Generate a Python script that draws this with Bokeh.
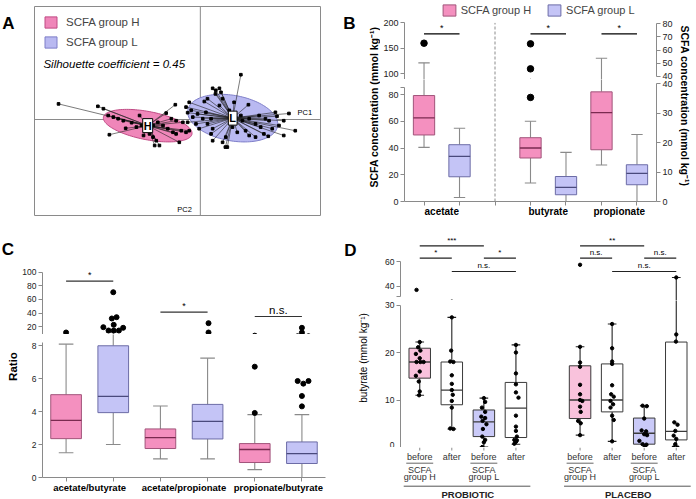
import numpy as np
from bokeh.plotting import figure
from bokeh.models import (Range1d, FactorRange, LinearAxis, CategoricalAxis, FixedTicker, Legend,
                          LegendItem, Label, Span, ColumnDataSource)
from bokeh.transform import dodge
from bokeh.layouts import row, column
from bokeh.embed import file_html
from bokeh.resources import INLINE
from bokeh.core.properties import value

# ------------------------------------------------------------------ data
# Panel A: PCA scores (PC1, PC2) of the samples of the two SCFA groups
a_H_pc1 = [-3.57, -2.58, -2.44, -2.29, -0.63, -0.86, -1.53, -2.32, -2.19, -2.07,
           -1.94, -1.73, -1.61, -1.48, -1.32, -1.28, -1.19, -1.15, -1.03, -1.11,
           -0.94, -0.82, -0.69, -0.61, -0.53, -0.48, -0.36, -0.28, -0.73, -0.61,
           -0.44, -1.19, -1.07, -1.43, -1.88]
a_H_pc2 = [0.39, 0.33, 0.27, -0.38, 0.37, 0.16, 0.10, 0.10, 0.06, 0.02,
           -0.03, -0.08, -0.19, -0.15, -0.28, -0.36, -0.44, -0.65, -0.65, -0.53,
           -0.15, -0.23, -0.32, -0.36, -0.57, -0.28, -0.32, -0.28, 0.02, -0.03,
           -0.07, -0.15, -0.07, -0.40, -0.22]
a_L_pc1 = [1.02, 0.31, 0.39, 0.48, 0.52, 0.38, 0.18, 0.10, -0.28, -0.36,
           -0.23, -0.07, -0.19, 0.06, 0.27, -0.32, -0.11, 0.18, -0.03, 0.31,
           0.27, 0.64, 0.56, 0.68, 0.63, 0.31, 0.93, 1.23, 1.39, 1.60,
           1.81, 1.98, 2.10, 2.39, 1.89, 1.93, 1.64, 1.48, 1.73, 1.23,
           1.06, 1.02, 1.39, 1.52, 0.85, 1.21, 0.81, 1.14, 0.48, 0.14,
           0.56, 1.71, -0.32, 0.73, 2.10, 2.23]
a_L_pc2 = [1.12, 0.78, 0.73, 0.78, 0.68, 0.64, 0.52, 0.45, 0.43, 0.31,
           0.23, 0.14, 0.06, 0.02, 0.02, -0.07, -0.11, -0.11, -0.23, -0.23,
           -0.36, -0.44, -0.57, -0.69, -0.69, -0.53, -0.32, -0.40, -0.44, -0.36,
           -0.23, -0.15, -0.40, -0.28, 0.18, 0.08, 0.02, 0.10, -0.03, 0.02,
           -0.03, 0.10, -0.11, -0.19, 0.43, 0.37, -0.19, -0.28, 0.35, 0.18,
           0.52, -0.42, 0.17, 0.23, -0.03, 0.15]
a_silhouette = 0.45

# Panel B: SCFA concentration (mmol/kg), box statistics
b_acids = ["acetate", "butyrate", "propionate"]
b_axis = ["left", "right", "right"]
b_H_lo = [40.5, 6.3, 12.4]
b_H_q1 = [49.8, 14.8, 17.6]
b_H_med = [62.6, 18.2, 30.2]
b_H_q3 = [79.3, 21.7, 37.3]
b_H_hi = [121.1, 27.3, 53.9]
b_L_lo = [3.0, 0.0, 0.0]
b_L_q1 = [18.5, 2.3, 5.7]
b_L_med = [33.8, 4.8, 9.6]
b_L_q3 = [42.5, 8.5, 12.5]
b_L_hi = [54.8, 16.7, 22.8]
b_out_acid = ["acetate", "butyrate", "butyrate", "butyrate"]
b_out_group = ["H", "H", "H", "H"]
b_out_val = [159.9, 64.8, 45.8, 35.4]
b_sig_text = ["*", "*", "*"]
b_sig_y = [178.5, 72.4, 72.4]

# Panel C: ratios
c_ratios = ["acetate/butyrate", "acetate/propionate", "propionate/butyrate"]
c_H_lo = [1.50, 1.13, 0.48]
c_H_q1 = [2.36, 1.76, 0.91]
c_H_med = [3.47, 2.42, 1.70]
c_H_q3 = [5.03, 2.95, 2.06]
c_H_hi = [8.10, 4.34, 3.82]
c_L_lo = [2.00, 1.13, 0.00]
c_L_q1 = [3.94, 2.34, 0.85]
c_L_med = [4.93, 3.41, 1.45]
c_L_q3 = [8.00, 4.44, 2.16]
c_L_hi = [11.4, 7.25, 3.82]
c_out_ratio = (["acetate/butyrate"] * 10 + ["acetate/propionate"] * 2 + ["propionate/butyrate"] * 9)
c_out_group = (["H"] + ["L"] * 9 + ["L"] * 2 + ["H"] * 2 + ["L"] * 7)
c_out_val = [11.4, 70.6, 33.9, 32.0, 22.7, 19.2, 18.3, 14.3, 14.3, 14.3,
             25.1, 11.4, 6.73, 3.92, 18.3, 11.4, 5.86, 5.70, 5.86, 4.95, 4.32]
c_out_dx = [0.0, 0.0, 0.07, -0.03, 0.01, -0.21, 0.21, -0.10, 0.01, 0.12,
            0.02, 0.02, 0.0, 0.0, 0.0, 0.0, -0.09, 0.03, 0.14, 0.0, 0.0]
c_sig_text = ["*", "*", "n.s."]
c_sig_y = [86.8, 41.2, 34.9]

# Panel D: butyrate (mmol/kg) before / after the intervention
d_trials = ["PROBIOTIC", "PLACEBO"]
d_cells = [("SCFA group H", "before"), ("SCFA group H", "after"),
           ("SCFA group L", "before"), ("SCFA group L", "after")]
d_lo = [11.0, 3.9, 0.1, 0.7, 2.6, 1.3, 0.0, 0.0]
d_q1 = [14.6, 9.0, 2.3, 2.1, 6.1, 7.5, 0.7, 1.6]
d_med = [18.0, 12.1, 5.4, 8.3, 10.0, 10.0, 3.0, 3.4]
d_q3 = [20.9, 18.0, 7.9, 13.7, 17.2, 17.6, 6.2, 22.2]
d_hi = [22.2, 27.4, 10.4, 21.6, 21.2, 26.0, 8.8, 47.1]
d_points = [
    [37.0, 22.2, 21.1, 20.4, 19.7, 18.8, 18.0, 18.0, 18.0, 16.0, 15.1, 13.9, 11.8, 11.0],
    [27.4, 20.4, 18.1, 18.0, 15.2, 13.4, 12.1, 11.1, 9.8, 8.4, 4.0, 3.9],
    [10.4, 9.6, 8.4, 7.5, 6.5, 6.2, 5.6, 4.9, 3.9, 2.3, 1.6, 1.1, 0.1],
    [21.6, 20.0, 15.6, 13.3, 11.6, 10.5, 6.7, 4.4, 3.5, 2.3, 1.6, 1.5, 1.2, 0.8],
    [57.4, 21.2, 17.9, 17.0, 13.2, 11.2, 10.0, 9.8, 8.6, 7.5, 5.6, 5.1, 2.6],
    [26.0, 20.9, 18.1, 17.6, 13.1, 11.2, 10.7, 9.8, 9.1, 8.4, 6.7, 5.8, 1.3],
    [8.8, 8.7, 6.1, 3.6, 3.4, 2.8, 2.6, 1.4, 0.7, 0.6, 0.1],
    [47.1, 23.8, 22.3, 5.3, 4.8, 3.5, 2.5, 1.8, 0.7, 0.0, 0.0],
]
d_points_dx = [
    [-0.10, 0.0, -0.05, 0.02, -0.12, 0.0, -0.10, 0.02, 0.12, 0.0, -0.12, -0.03, 0.0, -0.02],
    [0.0, -0.02, -0.05, 0.05, 0.0, 0.0, 0.0, 0.03, 0.0, 0.0, -0.05, 0.05],
    [0.0, 0.04, -0.06, 0.04, -0.08, 0.04, -0.04, 0.08, -0.03, -0.05, 0.04, 0.0, -0.05],
    [0.0, 0.0, 0.0, 0.0, 0.0, 0.08, 0.0, 0.0, 0.0, 0.03, -0.05, 0.03, 0.0, -0.05],
    [0.0, 0.0, 0.0, 0.0, 0.0, 0.0, 0.0, 0.07, 0.0, 0.02, -0.06, 0.02, 0.0],
    [0.0, 0.0, 0.0, 0.0, 0.0, -0.03, 0.05, -0.05, 0.03, -0.05, 0.0, 0.05, 0.0],
    [-0.05, 0.08, 0.0, -0.08, 0.06, 0.0, 0.09, -0.15, -0.05, 0.07, 0.02],
    [0.0, 0.0, -0.01, -0.06, 0.04, -0.03, -0.08, 0.0, -0.03, -0.08, 0.04],
]
d_sig_trial = ["PROBIOTIC"] * 4 + ["PLACEBO"] * 4
d_sig_from = [0, 0, 2, 1, 0, 0, 2, 1]
d_sig_to = [2, 1, 3, 3, 2, 1, 3, 3]
d_sig_y = [72.8, 62.8, 62.8, 52.0, 72.8, 62.8, 62.8, 52.0]
d_sig_text = ["***", "*", "*", "n.s.", "**", "n.s.", "n.s.", "n.s."]

# ------------------------------------------------------------------ style
SX = 0.994
SY = 1.0
FONT = "Liberation Sans"
GRAY = "#8a8a8a"
PINK, PINK_LINE, PINK_MED = "#f490bf", "#a1547a", "#7a2a50"
LAV, LAV_LINE, LAV_MED = "#c4c4f6", "#6c6ca6", "#4a4a7c"
PINK_D, LAV_D = "#f9c2dc", "#cacaf8"
ELL_H, ELL_H_LINE = "#ef86b9", "#c04a84"
ELL_L, ELL_L_LINE = "#b9b9f1", "#7e7ec8"


def pw(v):
    return int(round(v * SX))


def ph(v):
    return int(round(v * SY))


def fs(v):
    return f"{v * SY:.1f}px"


def fig(w, h, bl=0, br=0, bt=0, bb=0, x_range=None, y_range=None):
    p = figure(width=pw(w), height=ph(h),
               x_range=x_range if x_range is not None else Range1d(0, 1),
               y_range=y_range if y_range is not None else Range1d(0, 1),
               output_backend="svg", toolbar_location=None,
               x_axis_location=None, y_axis_location=None,
               min_border_left=pw(bl), min_border_right=pw(br),
               min_border_top=ph(bt), min_border_bottom=ph(bb))
    p.title = None
    p.grid.visible = False
    p.outline_line_color = None
    p.background_fill_color = "white"
    p.border_fill_color = "white"
    return p


def side(w, h, X0, Y0):
    """A blank strip whose data coordinates are reference pixels (x right, -y down)."""
    return fig(w, h, x_range=Range1d(X0, X0 + w), y_range=Range1d(-(Y0 + h), -Y0))


def stext(p, X, Y, text, size, style="normal", angle=0.0, color="black"):
    p.text(x=[X], y=[-Y], text=[text], angle=angle, text_font=value(FONT),
           text_font_size=value(fs(size)), text_font_style=style, text_color=color,
           text_align="center", text_baseline="middle")


def put(p, fl, fb, X, Y, text, size, style="normal", angle=0.0, align="center",
        baseline="middle", color="black"):
    p.add_layout(Label(x=(X - fl) * SX, y=(fb - Y) * SY, x_units="screen", y_units="screen",
                       text=text, text_font=FONT, text_font_size=fs(size),
                       text_font_style=style, text_color=color, angle=angle,
                       text_align=align, text_baseline=baseline))


def axis_style(ax, size):
    ax.axis_line_color = GRAY
    ax.major_tick_line_color = GRAY
    ax.minor_tick_line_color = None
    ax.major_tick_out = 4
    ax.major_tick_in = 0
    ax.major_label_standoff = 2
    ax.major_label_text_font = FONT
    ax.major_label_text_font_size = fs(size)
    ax.major_label_text_color = "#222222"
    return ax


def cat_axis(p, size):
    ax = axis_style(CategoricalAxis(), 1)
    ax.major_label_text_alpha = 0
    ax.major_label_text_font_size = "1px"
    ax.major_label_standoff = 0
    ax.group_text_font = FONT
    ax.group_text_font_size = fs(size)
    ax.group_text_font_style = "bold"
    ax.group_text_color = "black"
    ax.separator_line_color = None
    p.add_layout(ax, "below")


def draw_box(p, factors, lo, q1, med, q3, hi, fill, line, medc, wcol, bw, cw, yname="default"):
    data = dict(x=factors, lo=lo, q1=q1, med=med, q3=q3, hi=hi)
    if isinstance(fill, list):
        data["fill"] = fill
        fill = "fill"
    src = ColumnDataSource(data)
    kw = dict(source=src, y_range_name=yname)
    p.segment(x0="x", y0="q3", x1="x", y1="hi", line_color=wcol, line_width=1.1, **kw)
    p.segment(x0="x", y0="lo", x1="x", y1="q1", line_color=wcol, line_width=1.1, **kw)
    for k in ("hi", "lo"):
        p.segment(x0=dodge("x", -cw / 2, range=p.x_range), y0=k,
                  x1=dodge("x", cw / 2, range=p.x_range), y1=k,
                  line_color=wcol, line_width=1.1, **kw)
    r = p.vbar(x="x", top="q3", bottom="q1", width=bw, fill_color=fill,
               line_color=line, line_width=1, **kw)
    p.segment(x0=dodge("x", -bw / 2, range=p.x_range), y0="med",
              x1=dodge("x", bw / 2, range=p.x_range), y1="med",
              line_color=medc, line_width=1.3, **kw)
    return r


def make_legend(items, loc, spacing, gh=14):
    return Legend(items=items, location=loc, orientation="horizontal", padding=0, margin=0,
                  spacing=pw(spacing), glyph_width=pw(16), glyph_height=ph(gh),
                  label_height=ph(gh), label_standoff=pw(4), label_text_font=FONT,
                  label_text_font_size=fs(11), background_fill_alpha=0, border_line_alpha=0)


# ------------------------------------------------------------------ panel A
def ellipse(xs, ys, k=1.5, n=120):
    xs = np.asarray(xs)
    ys = np.asarray(ys)
    cx, cy = xs.mean(), ys.mean()
    vals, vecs = np.linalg.eigh(np.cov(xs, ys, bias=True))
    t = np.linspace(0, 2 * np.pi, n)
    pts = vecs @ (k * np.sqrt(vals)[:, None] * np.vstack([np.cos(t), np.sin(t)]))
    return cx + pts[0], cy + pts[1], cx, cy


pAl = side(33, 232, 0, 0)
stext(pAl, 8, 19, "A", 17, "bold")

pA = fig(307, 232, 1, 18, 6, 17, Range1d(-4.175, 3.025), Range1d(-2.4, 2.825))
pA.outline_line_color = GRAY
pA.add_layout(Span(location=0, dimension="height", line_color=GRAY, line_width=1, level="underlay"))
pA.add_layout(Span(location=0, dimension="width", line_color=GRAY, line_width=1, level="underlay"))
legA = []
for name, xs, ys, fc, lc in (("H", a_H_pc1, a_H_pc2, ELL_H, ELL_H_LINE),
                             ("L", a_L_pc1, a_L_pc2, ELL_L, ELL_L_LINE)):
    ex, ey, cx, cy = ellipse(xs, ys)
    r = pA.patch(ex, ey, fill_color=fc, line_color=lc, line_width=1)
    pA.segment(x0=[cx] * len(xs), y0=[cy] * len(ys), x1=xs, y1=ys, line_color="#222222", line_width=0.6)
    pA.scatter(xs, ys, marker="square", size=2.6, color="black")
    pA.text(x=[cx], y=[cy], text=[name], text_font=value(FONT), text_font_size=value(fs(11)),
            text_font_style="bold", text_align="center", text_baseline="middle",
            background_fill_color="white", border_line_color="black", padding=1)
    legA.append(LegendItem(label=f"SCFA group {name}", renderers=[r]))
pA.add_layout(Legend(items=legA, location="top_left", orientation="vertical", margin=ph(9), padding=0,
                     spacing=ph(6), glyph_width=pw(15), glyph_height=ph(14), label_height=ph(14),
                     label_standoff=pw(8), label_text_font=FONT, label_text_font_size=fs(11.5),
                     background_fill_alpha=0, border_line_alpha=0))
put(pA, 34, 215, 43, 63.5, f"Silhouette coefficient = {a_silhouette}", 11.5, "italic", align="left")
put(pA, 34, 215, 306, 111.5, "PC1", 7.5)
put(pA, 34, 215, 185, 208.5, "PC2", 7.5)

# ------------------------------------------------------------------ panel B
b_factors = []
for acid in b_acids:
    b_factors += [(acid, "H"), (acid, "L")]
    if acid == "acetate":
        b_factors.append((" ", " "))      # empty slot that separates the left- and right-axis acids
xB = FactorRange(factors=b_factors, factor_padding=0, group_padding=0,
                 range_padding=0.05, range_padding_units="absolute")
pBt = fig(300, 79, 19, 22, 0, 0, xB, Range1d(88.14, 244.3))
pBt.extra_y_ranges = {"r": Range1d(37.72, 97.7)}
pBb = fig(300, 153, 19, 22, 0, 31.3, xB, Range1d(0, 91.3))
pBb.extra_y_ranges = {"r": Range1d(0, 41.5)}

pBt.add_layout(axis_style(LinearAxis(ticker=FixedTicker(ticks=[100, 150, 200]), bounds=(88, 200)), 9), "left")
pBt.add_layout(axis_style(LinearAxis(y_range_name="r", ticker=FixedTicker(ticks=[40, 50, 60, 70, 80]),
                                     bounds=(40, 80)), 9), "right")
pBb.add_layout(axis_style(LinearAxis(ticker=FixedTicker(ticks=[0, 20, 40, 60, 80, 85]), bounds=(0, 85),
                                     major_label_overrides={85: ""}), 9), "left")
pBb.add_layout(axis_style(LinearAxis(y_range_name="r", ticker=FixedTicker(ticks=[0, 10, 20, 30, 40]),
                                     bounds=(0, 40)), 9), "right")
cat_axis(pBb, 10)

legB = {}
for p, top in ((pBt, 200), (pBb, 91.3)):
    p.segment(x0=[(" ", " ")], y0=[p.y_range.start], x1=[(" ", " ")], y1=[top],
              line_color=GRAY, line_dash="3 2", line_width=1)
    for g, stats, fc, lc, mc in (("H", (b_H_lo, b_H_q1, b_H_med, b_H_q3, b_H_hi), PINK, PINK_LINE, PINK_MED),
                                 ("L", (b_L_lo, b_L_q1, b_L_med, b_L_q3, b_L_hi), LAV, LAV_LINE, LAV_MED)):
        for side_, yname in (("left", "default"), ("right", "r")):
            idx = [i for i, a in enumerate(b_axis) if a == side_]
            r = draw_box(p, [(b_acids[i], g) for i in idx], *[[s[i] for i in idx] for s in stats],
                         fc, lc, mc, GRAY, 0.6, 0.32, yname)
            if side_ == "left" and p is pBt:
                legB[g] = r
    for side_, yname in (("left", "default"), ("right", "r")):
        ox = [(a, g) for a, g in zip(b_out_acid, b_out_group) if b_axis[b_acids.index(a)] == side_]
        oy = [v for a, v in zip(b_out_acid, b_out_val) if b_axis[b_acids.index(a)] == side_]
        p.scatter(x=ox, y=oy, size=6.5, color="black", y_range_name=yname)
        idx = [i for i, a in enumerate(b_axis) if a == side_]
        p.segment(x0=[(b_acids[i], "H") for i in idx], y0=[b_sig_y[i] for i in idx],
                  x1=[(b_acids[i], "L") for i in idx], y1=[b_sig_y[i] for i in idx],
                  line_color="black", line_width=1.2, y_range_name=yname)
        p.text(x=[(b_acids[i], "H", 0.5) for i in idx], y=[b_sig_y[i] for i in idx],
               text=[b_sig_text[i] for i in idx], text_font=value(FONT), text_font_size=value(fs(9)),
               text_align="center", text_baseline="bottom", y_offset=-1, y_range_name=yname)
pBt.add_layout(make_legend([LegendItem(label="SCFA group H", renderers=[legB["H"]]),
                            LegendItem(label="SCFA group L", renderers=[legB["L"]])],
                           ((438 - 401) * SX, (79 - 17) * SY), 15))

pBl = side(42, 232, 340, 0)
stext(pBl, 351, 19, "B", 17, "bold")
stext(pBl, 375.5, 110, "SCFA concentration  (mmol kg\u207b\u00b9)", 10.5, "bold", angle=np.pi / 2)
pBr = side(18, 232, 682, 0)
stext(pBr, 688, 112, "SCFA concentration  (mmol kg\u207b\u00b9)", 10.5, "bold", angle=-np.pi / 2)

# ------------------------------------------------------------------ panel C
c_factors = [(r_, g) for r_ in c_ratios for g in ("H", "L")]
xC = FactorRange(factors=c_factors, factor_padding=0, group_padding=0, range_padding=0)
pCt = fig(326, 102, 22, 18, 36, 0, xC, Range1d(8.44, 105.5))
pCb = fig(326, 165, 22, 18, 0, 21.7, xC, Range1d(0, 8.685))
pCt.add_layout(axis_style(LinearAxis(ticker=FixedTicker(ticks=[20, 40, 60, 80, 100]), bounds=(8, 100)), 8.5), "left")
pCb.add_layout(axis_style(LinearAxis(ticker=FixedTicker(ticks=[0, 2, 4, 6, 8]), bounds=(0, 8.2)), 8.5), "left")
cat_axis(pCb, 9.5)
legC = {}
for p in (pCt, pCb):
    for g, stats, fc, lc, mc in (("H", (c_H_lo, c_H_q1, c_H_med, c_H_q3, c_H_hi), PINK, PINK_LINE, PINK_MED),
                                 ("L", (c_L_lo, c_L_q1, c_L_med, c_L_q3, c_L_hi), LAV, LAV_LINE, LAV_MED)):
        r = draw_box(p, [(r_, g) for r_ in c_ratios], *stats, fc, lc, mc, GRAY, 0.65, 0.31)
        if p is pCt:
            legC[g] = r
    p.scatter(x=[(r_, g, dx) for r_, g, dx in zip(c_out_ratio, c_out_group, c_out_dx)], y=c_out_val,
              size=5, color="black")
    p.segment(x0=[(r_, "H") for r_ in c_ratios], y0=c_sig_y, x1=[(r_, "L") for r_ in c_ratios], y1=c_sig_y,
              line_color="#333333", line_width=1.2)
    p.text(x=[(r_, "H", 0.5) for r_ in c_ratios], y=c_sig_y, text=c_sig_text, text_font=value(FONT),
           text_font_size=[fs(9) if t == "*" else fs(11.5) for t in c_sig_text],
           text_align="center", text_baseline="bottom", y_offset=-1)
pCt.add_layout(make_legend([LegendItem(label="SCFA group H", renderers=[legC["H"]]),
                            LegendItem(label="SCFA group L", renderers=[legC["L"]])],
                           ((77 - 41) * SX, (334 - 264) * SY), 18, gh=16))
pCl = side(19, 267, 0, 232)
stext(pCl, 7.5, 249, "C", 17, "bold")
stext(pCl, 12, 366, "Ratio", 11.5, "bold", angle=np.pi / 2)

# ------------------------------------------------------------------ panel D
d_factors = [(t, g, s) for t in d_trials for (g, s) in d_cells]
xD = FactorRange(factors=d_factors, factor_padding=0, subgroup_padding=0, group_padding=1,
                 range_padding=0.1, range_padding_units="absolute")
pDt = fig(320, 68, 21.7, 1, 2, 0, xD, Range1d(28.37, 82.03))
pDb = fig(320, 147, 21.7, 1, 0, 0, xD, Range1d(0, 30.95))
pDa = fig(320, 52, 21.7, 1, 0, 0, xD, Range1d(0, 1))
pDt.add_layout(axis_style(LinearAxis(ticker=FixedTicker(ticks=[32, 40, 60]), bounds=(32, 60),
                                     major_label_overrides={32: ""}), 8.5), "left")
pDb.add_layout(axis_style(LinearAxis(ticker=FixedTicker(ticks=[0, 10, 20, 30]), bounds=(0, 30)), 8.5), "left")
pDb.add_layout(Span(location=0, dimension="width", line_color=GRAY, line_width=1))

d_fill = [(PINK_D if g.endswith("H") else LAV_D) if s == "before" else "white" for (t, g, s) in d_factors]
pt_x, pt_y = [], []
for f, vals, dxs in zip(d_factors, d_points, d_points_dx):
    for v, dx in zip(vals, dxs):
        pt_x.append((*f, dx))
        pt_y.append(v)
for p in (pDt, pDb):
    draw_box(p, d_factors, d_lo, d_q1, d_med, d_q3, d_hi, d_fill, "#3a3a3a", "#3a3a3a", "#222222", 0.67, 0.27)
    p.scatter(x=pt_x, y=pt_y, size=3.4, color="black")
sx0 = [(t, *d_cells[i]) for t, i in zip(d_sig_trial, d_sig_from)]
sx1 = [(t, *d_cells[j]) for t, j in zip(d_sig_trial, d_sig_to)]
sxm = [(t, *d_cells[i], (j - i) / 2) for t, i, j in zip(d_sig_trial, d_sig_from, d_sig_to)]
pDt.segment(x0=sx0, y0=d_sig_y, x1=sx1, y1=d_sig_y, line_color="#222222", line_width=1.1)
pDt.text(x=sxm, y=d_sig_y, text=d_sig_text, text_font=value(FONT), text_font_size=value(fs(8)),
         text_align="center", text_baseline="bottom", y_offset=-1)


def ya(Y):
    return (499 - Y) / 52


pDa.segment(x0=d_factors, y0=[ya(447)] * 8, x1=d_factors, y1=[ya(450)] * 8, line_color=GRAY)
pDa.text(x=d_factors, y=[ya(456)] * 8, text=[s for (t, g, s) in d_factors], text_font=value(FONT),
         text_font_size=value(fs(9)), text_align="center", text_baseline="middle", text_color="#333333")
bef = [f for f in d_factors if f[2] == "before"]
pDa.segment(x0=[(*f, -0.42) for f in bef], y0=[ya(462.7)] * 4, x1=[(*f, 0.42) for f in bef],
            y1=[ya(462.7)] * 4, line_color="#666666", line_width=1)
pDa.text(x=bef, y=[ya(469)] * 4, text=["SCFA"] * 4, text_font=value(FONT), text_font_size=value(fs(9)),
         text_align="center", text_baseline="middle", text_color="#333333")
pDa.text(x=bef, y=[ya(476.5)] * 4, text=["group " + f[1][-1] for f in bef], text_font=value(FONT),
         text_font_size=value(fs(9)), text_align="center", text_baseline="middle", text_color="#333333")
first = [(t, *d_cells[0], -0.5) for t in d_trials]
last = [(t, *d_cells[-1], 0.45) for t in d_trials]
pDa.segment(x0=first, y0=[ya(485.7)] * 2, x1=last, y1=[ya(485.7)] * 2, line_color="#555555", line_width=1)
pDa.text(x=[(t, *d_cells[1], 0.5) for t in d_trials], y=[ya(494)] * 2, text=d_trials,
         text_font=value(FONT), text_font_size=value(fs(9.5)), text_font_style="bold",
         text_align="center", text_baseline="middle", text_color="#222222")

pDl = side(35, 267, 345, 232)
stext(pDl, 352, 250, "D", 17, "bold")
stext(pDl, 365, 356, "butyrate  (mmol kg\u207b\u00b9)", 10, angle=np.pi / 2)

# ------------------------------------------------------------------ layout
layout = column(
    row(pAl, pA, pBl, column(pBt, pBb), pBr),
    row(pCl, column(pCt, pCb), pDl, column(pDt, pDb, pDa)),
)
open("out.html", "w").write(file_html(layout, INLINE))
